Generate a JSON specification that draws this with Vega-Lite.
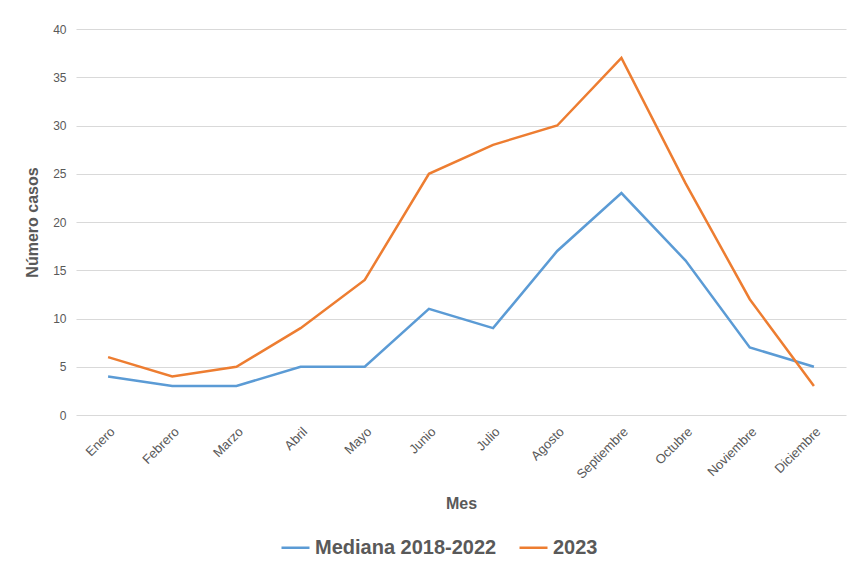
{
  "$schema": "https://vega.github.io/schema/vega-lite/v6.json",
  "width": 770,
  "height": 386,
  "autosize": "none",
  "padding": {"left": 76, "top": 29, "right": 4, "bottom": 150},
  "background": "white",
  "config": {
    "font": "Liberation Sans",
    "view": {"stroke": null}
  },
  "data": {
    "values": [
      {"mes": "Enero", "serie": "Mediana 2018-2022", "casos": 4},
      {"mes": "Febrero", "serie": "Mediana 2018-2022", "casos": 3},
      {"mes": "Marzo", "serie": "Mediana 2018-2022", "casos": 3},
      {"mes": "Abril", "serie": "Mediana 2018-2022", "casos": 5},
      {"mes": "Mayo", "serie": "Mediana 2018-2022", "casos": 5},
      {"mes": "Junio", "serie": "Mediana 2018-2022", "casos": 11},
      {"mes": "Julio", "serie": "Mediana 2018-2022", "casos": 9},
      {"mes": "Agosto", "serie": "Mediana 2018-2022", "casos": 17},
      {"mes": "Septiembre", "serie": "Mediana 2018-2022", "casos": 23},
      {"mes": "Octubre", "serie": "Mediana 2018-2022", "casos": 16},
      {"mes": "Noviembre", "serie": "Mediana 2018-2022", "casos": 7},
      {"mes": "Diciembre", "serie": "Mediana 2018-2022", "casos": 5},
      {"mes": "Enero", "serie": "2023", "casos": 6},
      {"mes": "Febrero", "serie": "2023", "casos": 4},
      {"mes": "Marzo", "serie": "2023", "casos": 5},
      {"mes": "Abril", "serie": "2023", "casos": 9},
      {"mes": "Mayo", "serie": "2023", "casos": 14},
      {"mes": "Junio", "serie": "2023", "casos": 25},
      {"mes": "Julio", "serie": "2023", "casos": 28},
      {"mes": "Agosto", "serie": "2023", "casos": 30},
      {"mes": "Septiembre", "serie": "2023", "casos": 37},
      {"mes": "Octubre", "serie": "2023", "casos": 24},
      {"mes": "Noviembre", "serie": "2023", "casos": 12},
      {"mes": "Diciembre", "serie": "2023", "casos": 3}
    ]
  },
  "mark": {"type": "line", "strokeWidth": 2.5},
  "encoding": {
    "x": {
      "field": "mes",
      "type": "ordinal",
      "sort": ["Enero","Febrero","Marzo","Abril","Mayo","Junio","Julio","Agosto","Septiembre","Octubre","Noviembre","Diciembre"],
      "scale": {"type": "point", "padding": 0.5},
      "axis": {
        "title": "Mes",
        "titleFontSize": 16,
        "titleFontWeight": "bold",
        "titleColor": "#595959",
        "titlePadding": 14,
        "labelAngle": -45,
        "labelFontSize": 13,
        "labelColor": "#595959",
        "labelPadding": 10,
        "domain": false,
        "ticks": false,
        "grid": false
      }
    },
    "y": {
      "field": "casos",
      "type": "quantitative",
      "scale": {"domain": [0, 40]},
      "axis": {
        "title": "Número casos",
        "titleFontSize": 16,
        "titleFontWeight": "bold",
        "titleColor": "#595959",
        "titlePadding": 12,
        "values": [0, 5, 10, 15, 20, 25, 30, 35, 40],
        "labelFontSize": 12,
        "labelColor": "#595959",
        "labelPadding": 10,
        "domain": false,
        "ticks": false,
        "gridColor": "#d9d9d9",
        "gridWidth": 1
      }
    },
    "color": {
      "field": "serie",
      "type": "nominal",
      "sort": ["Mediana 2018-2022", "2023"],
      "scale": {"domain": ["Mediana 2018-2022", "2023"], "range": ["#5b9bd5", "#ed7d31"]},
      "legend": {
        "title": null,
        "orient": "none",
        "direction": "horizontal",
        "legendX": 204,
        "legendY": 503,
        "symbolType": "stroke",
        "symbolSize": 784,
        "symbolStrokeWidth": 2.5,
        "labelFontSize": 20,
        "labelFontWeight": "bold",
        "labelColor": "#595959",
        "labelLimit": 0,
        "labelOffset": 4,
        "columnPadding": 17
      }
    }
  }
}
